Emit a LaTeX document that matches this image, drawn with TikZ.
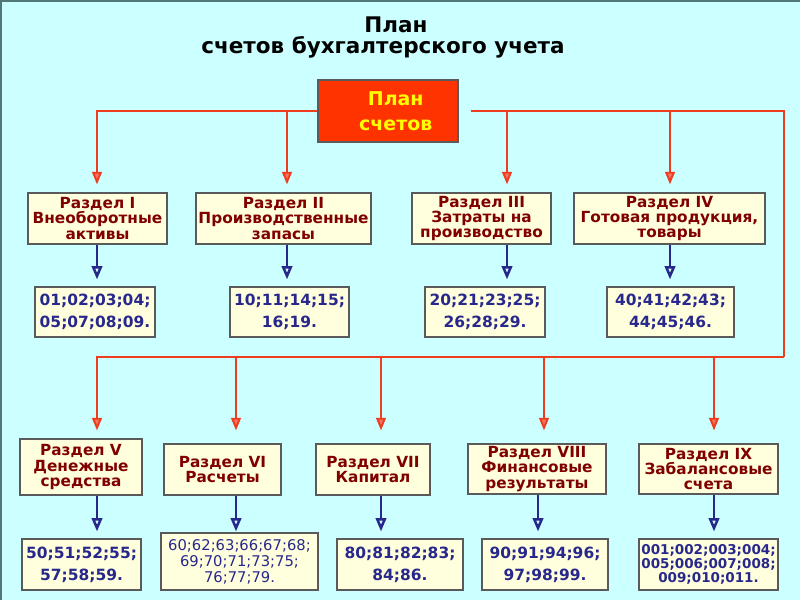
\documentclass[tikz,border=0pt]{standalone}
\usepackage{fontspec}
\setmainfont{DejaVu Sans}
\usetikzlibrary{arrows.meta}
\definecolor{bg}{RGB}{204,255,255}
\definecolor{cream}{RGB}{255,255,221}
\definecolor{boxline}{RGB}{90,90,90}
\definecolor{wine}{RGB}{128,0,0}
\definecolor{navy}{RGB}{40,40,140}
\definecolor{busred}{RGB}{240,60,30}
\definecolor{planred}{RGB}{255,51,0}
\definecolor{planyellow}{RGB}{255,255,0}
\definecolor{edge}{RGB}{80,120,120}
\begin{document}
\begin{tikzpicture}[x=0.025cm,y=-0.025cm,
    part/.style={draw=boxline,fill=cream,line width=0.8pt,text=wine,align=center,inner sep=0pt,
      font=\bfseries\fontsize{10.9}{10.8}\selectfont,minimum height=1.275cm},
    nums/.style={draw=boxline,fill=cream,line width=0.8pt,text=navy,align=center,inner sep=0pt,
      font=\bfseries\fontsize{11}{15.5}\selectfont,minimum height=1.25cm},
    bus/.style={busred,line width=1.4pt},
    down/.style={bus,-{Triangle[width=7pt,length=9pt,fill=busred!70!white]},shorten >=5.7pt},
    feed/.style={navy,line width=1.8pt,-{Triangle[width=7.5pt,length=9.5pt,fill=bg]},shorten >=5pt}]
  \fill[bg] (0,0) rectangle (800,600);
  \useasboundingbox (0,0) rectangle (800,600);
  \draw[edge,line width=2.5pt] (0,600) -- (0,0) -- (800,0);
  \node[font=\bfseries\fontsize{15.3}{18}\selectfont] (title1) at (396,25) {План};
  \node[font=\bfseries\fontsize{15.3}{18}\selectfont] (title2) at (383,47) {счетов бухгалтерского учета};
  \node[draw=boxline,fill=planred,text=planyellow,line width=0.8pt,align=center,inner sep=0pt,
    minimum width=3.5cm,minimum height=1.55cm,font=\bfseries\fontsize{13.5}{17.7}\selectfont]
    (plan) at (388,111) {\kern11pt План\\\kern11pt счетов};
  \draw
    (97.5,218.5) node[part,minimum width=3.475cm] (s1) {Раздел I\\Внеоборотные\\активы}
    (283.5,218.5) node[part,minimum width=4.375cm] (s2) {Раздел II\\Производственные\\запасы}
    (481.5,218.5) node[part,minimum width=3.475cm] (s3) {Раздел III\\Затраты на\\производство}
    (669.5,218.5) node[part,minimum width=4.775cm] (s4) {Раздел IV\\Готовая продукция,\\товары}
    (81,467) node[part,minimum width=3.05cm,minimum height=1.4cm] (s5) {Раздел V\\Денежные\\средства}
    (222.5,469.5) node[part,minimum width=2.925cm] (s6) {Раздел VI\\Расчеты}
    (373,469.5) node[part,minimum width=2.85cm] (s7) {Раздел VII\\Капитал}
    (537,469) node[part,minimum width=3.45cm,minimum height=1.25cm] (s8) {Раздел VIII\\Финансовые\\результаты}
    (708.5,469) node[part,minimum width=3.475cm,minimum height=1.25cm] (s9) {Раздел IX\\Забалансовые\\счета};
  \draw
    (95,312) node[nums,minimum width=3cm] (n1) {01;02;03;04;\\05;07;08;09.}
    (289.5,312) node[nums,minimum width=2.975cm] (n2) {10;11;14;15;\\16;19.}
    (485,312) node[nums,minimum width=3cm] (n3) {20;21;23;25;\\26;28;29.}
    (670.5,312) node[nums,minimum width=3.175cm] (n4) {40;41;42;43;\\44;45;46.}
    (81.5,564.5) node[nums,minimum width=2.975cm,minimum height=1.275cm] (n5) {50;51;52;55;\\57;58;59.}
    (239.5,561.5) node[nums,minimum width=3.925cm,minimum height=1.425cm,
      font=\mdseries\fontsize{10.5}{11.3}\selectfont] (n6) {60;62;63;66;67;68;\\69;70;71;73;75;\\76;77;79.}
    (400,564.5) node[nums,minimum width=3.15cm,minimum height=1.275cm] (n7) {80;81;82;83;\\84;86.}
    (545,564.5) node[nums,minimum width=3.15cm,minimum height=1.275cm] (n8) {90;91;94;96;\\97;98;99.}
    (708.5,564.5) node[nums,minimum width=3.475cm,minimum height=1.275cm,
      font=\bfseries\fontsize{9.6}{10}\selectfont] (n9) {001;002;003;004;\\005;006;007;008;\\009;010;011.};
  \coordinate (c1) at (97,0);
  \coordinate (c2) at (287,0);
  \coordinate (c3) at (507,0);
  \coordinate (c4) at (670,0);
  \coordinate (e1) at (97,0);
  \coordinate (e2) at (236,0);
  \coordinate (e3) at (381,0);
  \coordinate (e4) at (544,0);
  \coordinate (e5) at (714,0);
  \coordinate (f4) at (538,0);
  \coordinate (corner) at (784,357);
  \begin{scope}[down]
    \draw (plan.west) -| (c1 |- s1.north);
    \draw (c2 |- plan.west) to (c2 |- s2.north);
    \draw (c3 |- plan.east) to (c3 |- s3.north);
    \draw (c4 |- plan.east) to (c4 |- s4.north);
    \draw (corner) -| (e1 |- s5.north);
    \draw (e2 |- corner) to (e2 |- s5.north);
    \draw (e3 |- corner) to (e3 |- s5.north);
    \draw (e4 |- corner) to (e4 |- s5.north);
    \draw (e5 |- corner) to (e5 |- s5.north);
  \end{scope}
  \draw[bus,shorten <=8.5pt] (plan.east) -| (corner);
  \begin{scope}[feed]
    \draw (c1 |- s1.south) to (c1 |- n1.north);
    \draw (c2 |- s2.south) to (c2 |- n2.north);
    \draw (c3 |- s3.south) to (c3 |- n3.north);
    \draw (c4 |- s4.south) to (c4 |- n4.north);
    \draw (e1 |- s5.south) to (e1 |- n5.north);
    \draw (e2 |- s6.south) to (e2 |- n5.north);
    \draw (e3 |- s7.south) to (e3 |- n5.north);
    \draw (f4 |- s8.south) to (f4 |- n5.north);
    \draw (e5 |- s9.south) to (e5 |- n5.north);
  \end{scope}
\end{tikzpicture}
\end{document}
